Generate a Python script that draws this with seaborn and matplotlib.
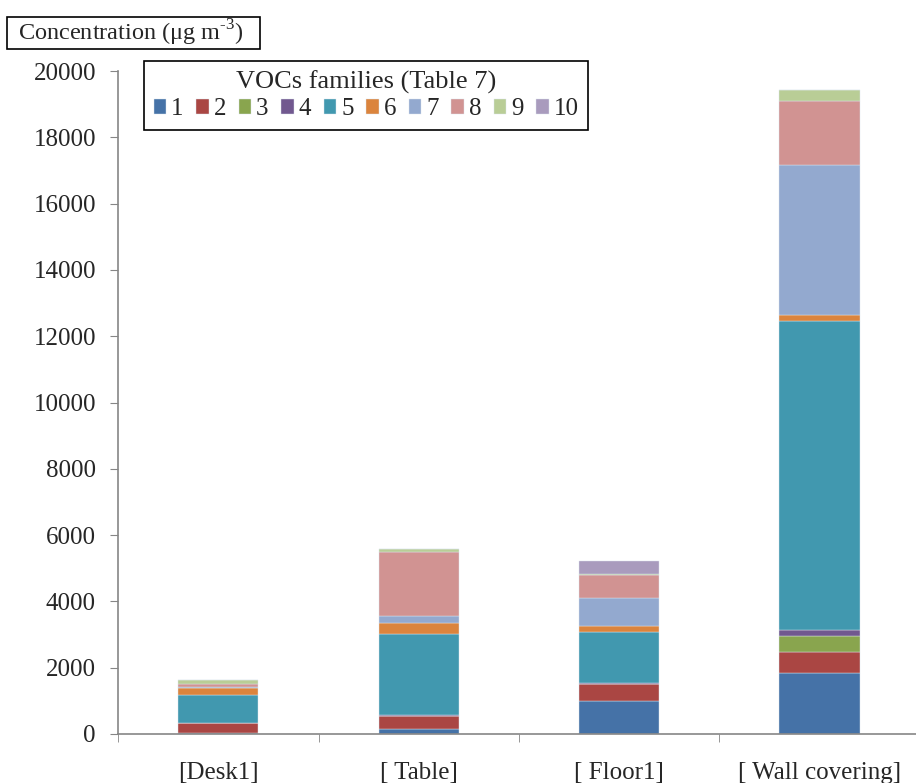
import numpy as np
import matplotlib
matplotlib.use('Agg')
import matplotlib.pyplot as plt
from matplotlib.patches import Rectangle
import seaborn as sns

# Data
samples = ['[Desk1]', '[ Table]', '[ Floor1]', '[ Wall covering]']
families = ['1', '2', '3', '4', '5', '6', '7', '8', '9', '10']
fam1 = [30, 160, 1010, 1850]
fam2 = [290, 375, 490, 620]
fam3 = [0, 0, 20, 475]
fam4 = [0, 40, 20, 190]
fam5 = [850, 2450, 1540, 9310]
fam6 = [210, 320, 170, 200]
fam7 = [40, 220, 850, 4520]
fam8 = [100, 1930, 700, 1940]
fam9 = [100, 80, 20, 320]
fam10 = [0, 0, 390, 0]
colors = ['#4572A7', '#AA4643', '#89A54E', '#71588F', '#4198AF',
          '#DB843D', '#93A9CF', '#D19392', '#B9CD96', '#A99BBD']

series = [fam1, fam2, fam3, fam4, fam5, fam6, fam7, fam8, fam9, fam10]

sns.set_style('white')
plt.rcParams['font.family'] = ['Liberation Serif', 'DejaVu Serif']
plt.rcParams['mathtext.fontset'] = 'custom'
plt.rcParams['mathtext.rm'] = 'Liberation Serif'

W, H = 916, 783
fig = plt.figure(figsize=(W / 100, H / 100), dpi=100)
ax = fig.add_axes([0.129, 0.0626, 0.875, 0.8467])

bottom = np.zeros(len(samples))
for name, vals, c in zip(families, series, colors):
    sns.barplot(x=samples, y=vals, bottom=bottom, color=c, width=0.4,
                saturation=1, edgecolor='#dde6ee', linewidth=0.3,
                label=name, ax=ax)
    bottom += np.array(vals)

ax.set_ylim(0, 20000)
ax.set_xlim(-0.5, 3.46)
ax.set_yticks(range(0, 20001, 2000))
ax.set_xlabel('')
ax.set_ylabel('')
for s in ['top', 'right']:
    ax.spines[s].set_visible(False)
for s in ['left', 'bottom']:
    ax.spines[s].set_color('#868686')
    ax.spines[s].set_linewidth(1.2)
ax.tick_params(axis='y', direction='out', length=6, color='#868686',
               labelsize=18, pad=10, left=True)
ax.tick_params(axis='x', which='major', length=0, labelsize=18, pad=20)
ax.set_xticks([-0.5, 0.5, 1.5, 2.5, 3.5], minor=True)
ax.tick_params(axis='x', which='minor', direction='out', length=6,
               color='#868686', bottom=True)

leg = ax.legend(title='VOCs families (Table 7)', ncol=10, loc='upper left',
                bbox_to_anchor=(144 / W, 1 - 61 / H),
                bbox_transform=fig.transFigure, fontsize=18,
                title_fontsize=19, handlelength=0.5, handleheight=0.5,
                handletextpad=0.2, columnspacing=0.5, borderpad=0.25,
                labelspacing=0.1, fancybox=False, framealpha=1,
                edgecolor='black', borderaxespad=0)
leg.get_frame().set_linewidth(1.2)
leg._legend_box.sep = 3
leg._legend_box.pad = 7

# y-axis label in a box at the top left
fig.patches.append(Rectangle((7 / W, 1 - 49 / H), 253 / W, 32 / H,
                             transform=fig.transFigure, facecolor='white',
                             edgecolor='black', linewidth=1.2))
fig.text(18 / W, 1 - 33 / H, r'Concentration (μg m$^{\text{-3}}$)', fontsize=17.5,
         va='center', ha='left')

plt.savefig('out.png', dpi=100)
